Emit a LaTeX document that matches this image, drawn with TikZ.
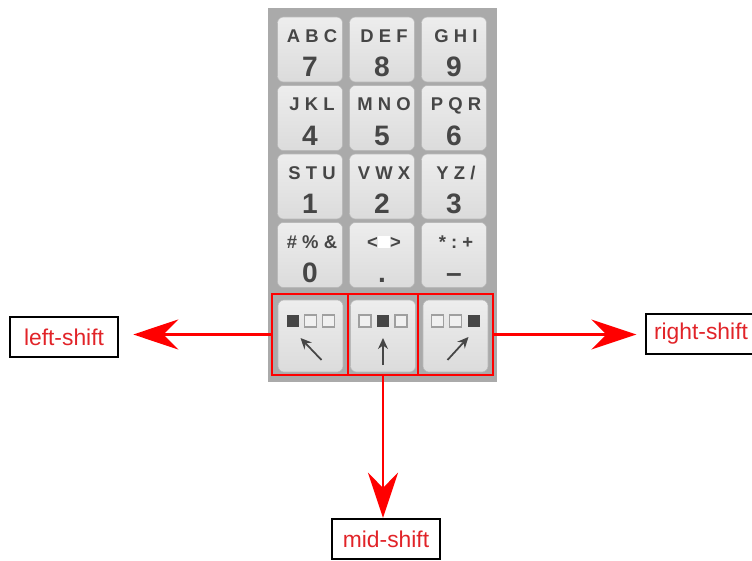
\documentclass[tikz,border=0pt]{standalone}
\usepackage{fontspec}
\setmainfont{Liberation Sans}
\newfontfamily\keyfont[LetterSpace=28]{Liberation Sans}
\usetikzlibrary{arrows.meta}
\definecolor{padgray}{RGB}{170,170,170}
\definecolor{keyink}{RGB}{70,70,70}
\definecolor{lblred}{RGB}{225,35,40}
\def\kw{1.3cm}
\tikzset{key/.style={rounded corners=0.12cm, minimum width=\kw, minimum height=\kw,
    top color=gray!14, bottom color=gray!28, draw=gray!55, line width=0.3pt}}
\tikzset{keylt/.style={text=keyink, font=\keyfont\bfseries\fontsize{10.5}{11}\selectfont, inner sep=0pt, anchor=base}}
\tikzset{keydg/.style={text=keyink, font=\bfseries\fontsize{16}{17}\selectfont, inner sep=0pt, anchor=base}}
\tikzset{redbox/.style={draw=red, line width=1.2pt, minimum height=1.62cm}}
\tikzset{lbl/.style={draw=black, line width=1.4pt, text=lblred, font=\fontsize{13}{14}\selectfont,
    minimum width=2.16cm, minimum height=0.8cm, inner sep=0pt}}
\tikzset{shiftarrow/.style={red, line width=1.6pt, -{Stealth[length=0.9cm, width=0.6cm, inset=0.3cm]}}}
\tikzset{dirarrow/.style={keyink, line width=1pt, -{Stealth[length=0.22cm, width=0.2cm]}}}

\begin{document}
\begin{tikzpicture}[x=0.02cm, y=-0.02cm]
  \useasboundingbox (0,0) rectangle (752,561);
  % keypad body
  \fill[padgray] (268,8) rectangle (497,382);
  % letter and digit keys
  \foreach \lt/\dg/\c/\r in {
    ABC/7/1/1, DEF/8/2/1, GHI/9/3/1,
    JKL/4/1/2, MNO/5/2/2, PQR/6/3/2,
    STU/1/1/3, VWX/2/2/3, {YZ/}/3/3/3,
    {\#\%\&}/0/1/4, {<\textcolor{white}{\rule{7pt}{7pt}}>}/{.}/2/4, {*:+}/{–}/3/4%
  } {
    \pgfmathsetmacro{\x}{238+72*\c}
    \pgfmathsetmacro{\y}{-19+68.5*\r}
    \node[key] (key\c\r) at (\x,\y) {};
    \node[keylt] (key\c\r-lt) at (\x+2,\y-7) {\lt};
    \node[keydg] (key\c\r-dg) at (\x,\y+27) {\dg};
  }
  % shift keys
  \foreach \name/\x/\on/\sx/\sy/\ex/\ey in {
    lkey/310.5/1/11/24/-10/2,
    mkey/383/2/0/29/0/2,
    rkey/455.5/3/-8/24/13/1%
  } {
    \node[key, minimum height=1.44cm] (\name) at (\x,336) {};
    \foreach \i in {1,2,3} {
      \ifnum\i=\on
        \fill[keyink] (\x-42+18*\i,315) rectangle ++(12,12);
      \else
        \draw[gray!75, line width=0.8pt, fill=gray!12] (\x-42+18*\i,315) rectangle ++(12,12);
      \fi
    }
    \draw[dirarrow] (\x+\sx,336+\sy) -- (\x+\ex,336+\ey);
  }
  % red frames
  \node[redbox, minimum width=1.52cm] (lbox) at (310,334.5) {};
  \node[redbox, minimum width=1.4cm] (mbox) at (383,334.5) {};
  \node[redbox, minimum width=1.5cm] (rbox) at (455.5,334.5) {};
  % labels
  \node[lbl] (lshift) at (64,337) {left-shift};
  \node[lbl, minimum width=2.2cm] (rshift) at (701,334) {right-shift};
  \node[lbl] (mshift) at (386,539) {mid-shift};
  \draw[shiftarrow, shorten >=5\pgflinewidth] (lbox.west) -- (lshift.east |- lbox.west);
  \draw[shiftarrow, shorten >=3\pgflinewidth] (rbox.east) -- (rshift.west |- rbox.east);
  \draw[shiftarrow] (mbox.south) -- (mshift.north -| mbox.south);
\end{tikzpicture}
\end{document}
